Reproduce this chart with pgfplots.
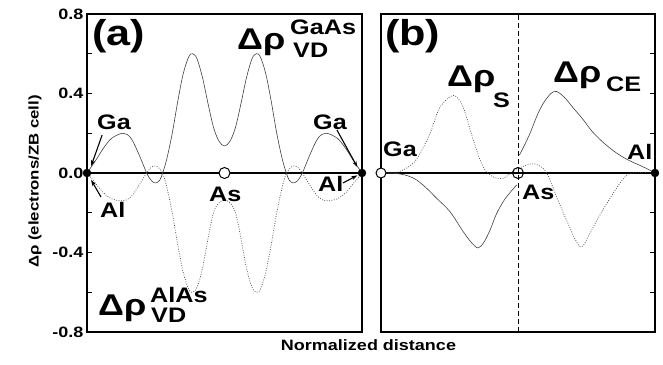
\documentclass[border=0pt]{standalone}
\usepackage{fontspec}
\setmainfont{Liberation Sans}[FakeStretch=1.2]
\usepackage{pgfplots}
\pgfplotsset{compat=1.18}
\usetikzlibrary{arrows.meta}
\newcommand\F[1]{\fontsize{#1}{#1}\selectfont\bfseries}
\begin{document}
\begin{tikzpicture}
\useasboundingbox (0,0) rectangle (663pt,364pt);
\pgfplotsset{
  common/.style={
    scale only axis, clip=false,
    xmin=0, xmax=1, ymin=-0.8, ymax=0.8,
    axis line style={line width=1.6pt},
    xtick=\empty,
    tick align=inside,
    major tick length=5pt, minor tick length=5pt,
    every tick/.style={black, line width=1pt},
    /pgf/number format/assume math mode=true,
    yticklabel style={font=\F{15}, /pgf/number format/.cd, fixed, fixed zerofill, precision=1},
  },
  solidc/.style={black!75, line width=0.6pt, smooth, tension=0.55},
  dotc/.style={black!70, line width=0.75pt, dash pattern=on 0.8pt off 1.6pt, smooth, tension=0.55},
}
% ---------------- panel (a)
\begin{axis}[common, at={(87pt,32pt)}, anchor=south west, width=275pt, height=318pt,
  ytick={-0.8,-0.4,0,0.4,0.8}, minor ytick={-0.6,-0.2,0.2,0.6}, ytick pos=left]
\addplot[black, line width=1.3pt] coordinates {(0,0) (1,0)};
\addplot[solidc] coordinates {
(0,0) (0.03,0.06) (0.06,0.125) (0.09,0.175) (0.131,0.20) (0.16,0.175) (0.19,0.09)
(0.217,0.0) (0.235,-0.04) (0.251,-0.05) (0.265,-0.035) (0.275,0) (0.29,0.07) (0.31,0.20)
(0.33,0.36) (0.35,0.50) (0.37,0.585) (0.384,0.60) (0.40,0.575) (0.42,0.48) (0.44,0.35)
(0.46,0.23) (0.48,0.16) (0.50,0.136) (0.52,0.16) (0.54,0.23) (0.56,0.35) (0.58,0.48)
(0.60,0.575) (0.616,0.60) (0.63,0.585) (0.65,0.50) (0.67,0.36) (0.69,0.20) (0.71,0.07)
(0.725,0) (0.735,-0.035) (0.749,-0.05) (0.765,-0.04) (0.783,0) (0.81,0.09) (0.84,0.175)
(0.869,0.20) (0.91,0.175) (0.94,0.125) (0.97,0.06) (1,0)};
\addplot[dotc] coordinates {
(0,0) (0.03,-0.05) (0.06,-0.10) (0.09,-0.13) (0.131,-0.14) (0.16,-0.12) (0.19,-0.06)
(0.217,0.0) (0.235,0.03) (0.251,0.035) (0.265,0.02) (0.275,0) (0.29,-0.07) (0.31,-0.20)
(0.33,-0.36) (0.35,-0.50) (0.37,-0.585) (0.384,-0.60) (0.40,-0.575) (0.42,-0.48) (0.44,-0.33)
(0.46,-0.20) (0.48,-0.15) (0.50,-0.136) (0.52,-0.15) (0.54,-0.20) (0.56,-0.33) (0.58,-0.48)
(0.60,-0.575) (0.616,-0.60) (0.63,-0.585) (0.65,-0.50) (0.67,-0.36) (0.69,-0.20) (0.71,-0.07)
(0.725,0) (0.735,0.02) (0.749,0.035) (0.765,0.03) (0.783,0) (0.81,-0.06) (0.84,-0.12)
(0.869,-0.14) (0.91,-0.13) (0.94,-0.10) (0.97,-0.05) (1,0)};
\addplot[only marks, mark=*, mark size=4pt, black] coordinates {(0,0) (1,0)};
\addplot[only marks, mark=*, mark size=5.5pt, mark options={fill=white, draw=black, line width=1pt}] coordinates {(0.5,0)};
\draw[-{Stealth[length=6pt,width=4pt]}, line width=1.1pt] (axis cs:0.055,0.191) -- (axis cs:0.015,0.035);
\draw[-{Stealth[length=6pt,width=4pt]}, line width=1.1pt] (axis cs:0.051,-0.121) -- (axis cs:0.015,-0.035);
\draw[-{Stealth[length=6pt,width=4pt]}, line width=1.1pt] (axis cs:0.909,0.216) -- (axis cs:0.983,0.03);
\draw[-{Stealth[length=6pt,width=4pt]}, line width=1.1pt] (axis cs:0.931,-0.05) -- (axis cs:0.983,-0.012);
\end{axis}
% ---------------- panel (b)
\begin{axis}[common, at={(381pt,32pt)}, anchor=south west, width=274pt, height=318pt,
  ytick={-0.6,-0.4,-0.2,0.2,0.4,0.6}, yticklabels={}, ytick pos=right]
\addplot[black, line width=1.3pt] coordinates {(0,0) (1,0)};
\addplot[black, line width=1pt, dash pattern=on 5pt off 3pt] coordinates {(0.5,-0.8) (0.5,0.8)};
\addplot[solidc] coordinates {
(0,0) (0.04,0.0) (0.07,-0.005) (0.10,-0.015) (0.13,-0.035) (0.165,-0.075) (0.203,-0.127)
(0.252,-0.195) (0.30,-0.295) (0.33,-0.35) (0.354,-0.377) (0.375,-0.35) (0.398,-0.287)
(0.42,-0.21) (0.446,-0.144) (0.47,-0.10) (0.495,-0.06)};
\addplot[solidc] coordinates {
(0.505,0.09) (0.52,0.13) (0.544,0.20) (0.57,0.29) (0.592,0.35) (0.62,0.40) (0.641,0.41)
(0.67,0.38) (0.70,0.33) (0.737,0.27) (0.77,0.21) (0.81,0.155) (0.85,0.11) (0.883,0.08)
(0.91,0.06) (0.95,0.035) (0.98,0.015) (1,0)};
\addplot[dotc] coordinates {
(0,0) (0.05,0.0) (0.10,0.03) (0.135,0.08) (0.179,0.20) (0.215,0.33) (0.264,0.39) (0.30,0.33)
(0.337,0.165) (0.373,0.03) (0.41,-0.02) (0.446,-0.027) (0.489,0.015) (0.544,0.045)
(0.573,0.04) (0.605,0.0) (0.641,-0.12) (0.678,-0.24) (0.726,-0.37) (0.76,-0.31)
(0.787,-0.24) (0.848,-0.10) (0.89,-0.02) (0.92,0) (1,0)};
\addplot[only marks, mark=*, mark size=4pt, black] coordinates {(1,0)};
\addplot[only marks, mark=*, mark size=5pt, mark options={fill=white, draw=black, line width=1pt}] coordinates {(0,0)};
\addplot[only marks, mark=o, mark size=5.5pt, mark options={draw=black, line width=1pt}] coordinates {(0.5,0)};
\end{axis}
% ---------------- text
\node[rotate=90, font=\F{14}] at (35pt,182.5pt) {Δρ (electrons/ZB cell)};
\node[anchor=base, font=\F{15}] at (368.5pt,14pt) {Normalized distance};
\node[anchor=base west, inner sep=0, font=\F{36}] at (92pt,318pt) {(a)};
\node[anchor=base west, inner sep=0, font=\F{36}] at (385pt,318pt) {(b)};
% Delta rho GaAs
\node[anchor=base west, inner sep=0, font=\F{30}] at (237pt,314pt) {Δρ};
\node[anchor=base west, inner sep=0, font=\F{21}] at (290pt,329pt) {GaAs};
\node[anchor=base west, inner sep=0, font=\F{21}] at (293pt,306pt) {VD};
% Delta rho AlAs
\node[anchor=base west, inner sep=0, font=\F{30}] at (98pt,49pt) {Δρ};
\node[anchor=base west, inner sep=0, font=\F{21}] at (150pt,62pt) {AlAs};
\node[anchor=base west, inner sep=0, font=\F{21}] at (151pt,42pt) {VD};
% Delta rho S
\node[anchor=base west, inner sep=0, font=\F{30}] at (447pt,277pt) {Δρ};
\node[anchor=base west, inner sep=0, font=\F{21}] at (493pt,256pt) {S};
% Delta rho CE
\node[anchor=base west, inner sep=0, font=\F{30}] at (553pt,281pt) {Δρ};
\node[anchor=base west, inner sep=0, font=\F{21}] at (606pt,272pt) {CE};
% atom labels
\node[anchor=base west, inner sep=0, font=\F{21}] at (97pt,234pt) {Ga};
\node[anchor=base west, inner sep=0, font=\F{21}] at (100pt,146pt) {Al};
\node[anchor=base west, inner sep=0, font=\F{21}] at (209pt,162pt) {As};
\node[anchor=base west, inner sep=0, font=\F{21}] at (313pt,234pt) {Ga};
\node[anchor=base west, inner sep=0, font=\F{21}] at (318pt,172pt) {Al};
\node[anchor=base west, inner sep=0, font=\F{21}] at (383pt,207pt) {Ga};
\node[anchor=base west, inner sep=0, font=\F{21}] at (627pt,204pt) {Al};
\node[anchor=base west, inner sep=0, font=\F{21}] at (522pt,164pt) {As};
\end{tikzpicture}
\end{document}
